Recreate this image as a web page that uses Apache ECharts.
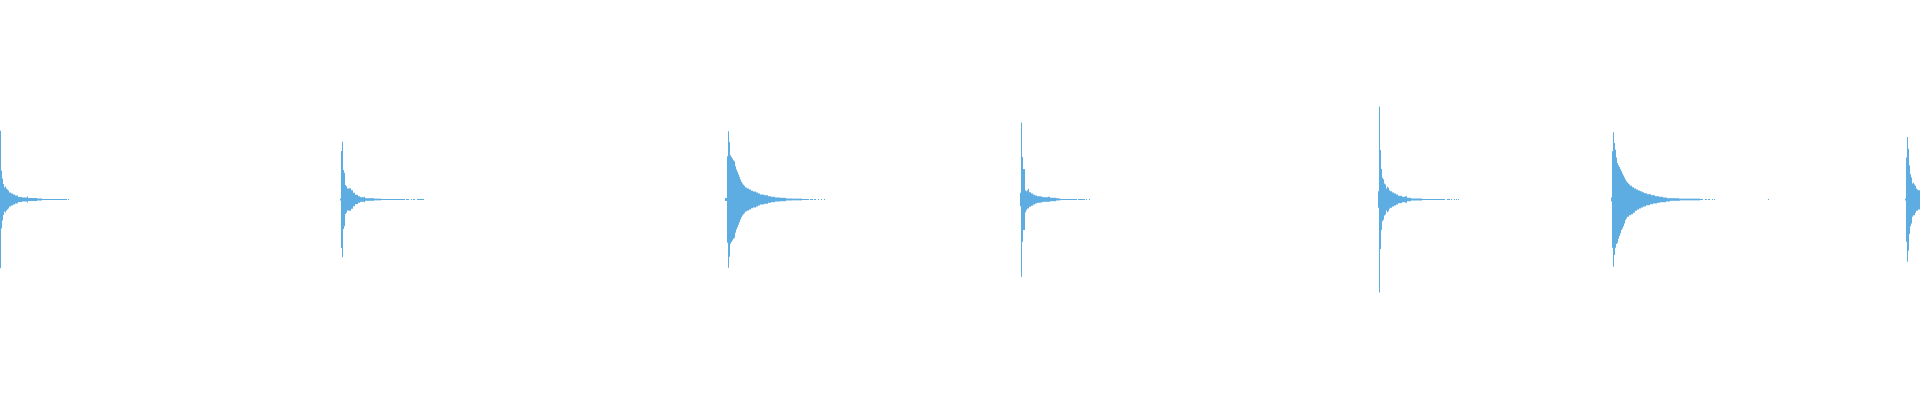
<!DOCTYPE html>
<html>
<head>
<meta charset="utf-8">
<script src="https://cdn.jsdelivr.net/npm/echarts@6/dist/echarts.min.js"></script>
<style>
  html, body { margin: 0; padding: 0; background: #ffffff; }
  #wave { width: 1920px; height: 400px; }
</style>
</head>
<body>
<div id="wave"></div>
<script>
// Envelope steps: [sample, amplitude].
// An amplitude holds until the next step.
const burst1Top = [[0, 69], [1, 29], [2, 21], [3, 15.5], [4, 12], [5, 13], [6, 11], [7, 10], [8, 9], [9, 7], [11, 6], [13, 5], [15, 4], [18, 2.5], [22, 2], [27, 3], [28, 1.5], [37, 1], [42, 0]];
const burst2Top = [[340, 1], [341, 48.5], [342, 58], [343, 29.5], [344, 26.7], [345, 14.5], [346, 13.3], [347, 11], [349, 11.3], [351, 9.3], [353, 6.7], [355, 4.7], [358, 3.3], [360, 2.3], [364, 2.7], [365, 1.3], [374, 0.7], [381, 0]];
const burst3Top = [[725, 1.5], [727, 43.3], [728, 68.5], [729, 57.5], [730, 44.3], [731, 42.7], [732, 41], [733, 39.3], [734, 38.3], [735, 33.3], [736, 30], [737, 27.7], [738, 25.3], [739, 22.7], [740, 20], [741, 17.7], [742, 16], [743, 14.7], [744, 13.7], [745, 12], [747, 11], [749, 10], [751, 8.7], [753, 8], [756, 7], [758, 6], [760, 5], [764, 4.3], [768, 3.3], [771, 2.7], [775, 2], [780, 1.7], [786, 1], [792, 0.7], [802, 0]];
const burst4Top = [[1020, 6.7], [1021, 77.3], [1022, 42.7], [1023, 30.5], [1025, 9.3], [1026, 8.3], [1027, 9.3], [1028, 10.7], [1029, 7.3], [1031, 6], [1033, 4.7], [1035, 4], [1037, 3.3], [1041, 2.7], [1043, 2.3], [1048, 2.7], [1050, 1.7], [1056, 1.3], [1059, 0.7], [1061, 0]];
const burst4Bottom = [[1020, 6.7], [1021, 77.4], [1022, 42.4], [1023, 30.7], [1025, 13], [1026, 10.7], [1027, 9], [1029, 7.3], [1031, 6.3], [1033, 5], [1035, 4], [1037, 3.3], [1041, 2.7], [1043, 2.3], [1050, 1.7], [1056, 1], [1059, 0.7], [1061, 0]];
const burst5Top = [[1378, 8.3], [1379, 93.3], [1380, 49.5], [1381, 30.5], [1382, 21.7], [1383, 20.3], [1384, 16], [1385, 15], [1386, 11], [1387, 12.7], [1388, 11.7], [1389, 9.3], [1390, 8.3], [1392, 7], [1394, 6], [1396, 5], [1398, 3.7], [1402, 2.7], [1405, 3.3], [1407, 1.7], [1411, 1], [1422, 0]];
const burst6Top = [[1611, 2], [1612, 48.3], [1613, 67.3], [1614, 56.7], [1615, 50], [1616, 42], [1617, 36.7], [1618, 34.3], [1619, 32.7], [1620, 30.3], [1621, 28.3], [1622, 26], [1623, 24], [1624, 22], [1625, 20], [1626, 18.3], [1627, 17], [1628, 16], [1629, 15], [1630, 13.7], [1632, 12.3], [1634, 11], [1636, 10], [1638, 9], [1640, 8.3], [1642, 7.3], [1644, 6.3], [1647, 5.3], [1651, 4.3], [1655, 3.3], [1659, 2.7], [1663, 2], [1667, 1.3], [1679, 0.7], [1700, 0]];
const burst6Bottom = [[1611, 2], [1612, 48.3], [1613, 67.4], [1614, 55.7], [1615, 48.3], [1616, 44.7], [1617, 43.3], [1618, 39.3], [1619, 36.7], [1620, 34], [1621, 30.7], [1622, 29], [1623, 26.7], [1624, 24], [1625, 20.7], [1626, 19], [1627, 17.3], [1629, 15.7], [1631, 14.7], [1633, 13.3], [1635, 11.3], [1637, 10], [1639, 9], [1641, 8], [1643, 7], [1646, 5.7], [1650, 4.7], [1653, 4], [1657, 3.3], [1660, 2.7], [1666, 2], [1670, 1.3], [1680, 0.7], [1700, 0]];
const burst7Top = [[1905, 1], [1906, 42], [1907, 62.7], [1908, 51], [1909, 34.3], [1910, 25.3], [1911, 22], [1912, 16], [1913, 16.7], [1914, 15], [1915, 13.7], [1916, 11], [1917, 10], [1918, 9.3], [1920, 9.3]];
const burst7Bottom = [[1905, 1], [1906, 42.3], [1907, 62.3], [1908, 51.3], [1909, 34.7], [1910, 26.7], [1911, 24], [1912, 17.3], [1913, 15.7], [1915, 13.3], [1916, 11.3], [1918, 10], [1920, 10]];

// near-silent centre-line pieces: [from, to]
const burst1Tail = [[0, 67], [68, 69]];
const burst2Tail = [[340, 405], [406, 409], [411, 412], [413, 415], [417, 424]];
const burst3Tail = [[725, 809], [810, 813], [814, 816], [818, 819], [821, 822], [824, 825]];
const burst4Tail = [[1020, 1077], [1078, 1085], [1086, 1087], [1089, 1090]];
const burst5Tail = [[1378, 1445], [1447, 1450], [1451, 1452], [1454, 1455], [1456, 1457], [1458, 1459]];
const burst6Tail = [[1611, 1703], [1705, 1707], [1708, 1710], [1712, 1713], [1714, 1715], [1768, 1769]];
const burst7Tail = [[1905, 1920]];

const waveColor = "#5dade2";

const tops = [burst1Top, burst2Top, burst3Top, burst4Top, burst5Top, burst6Top, burst7Top];
const bottoms = [burst1Top, burst2Top, burst3Top, burst4Bottom, burst5Top, burst6Bottom, burst7Bottom];
const tails = [burst1Tail, burst2Tail, burst3Tail, burst4Tail, burst5Tail, burst6Tail, burst7Tail];

// every piece becomes [x0, x1, yTop, yBottom]
const pieces = [];
tops.forEach(function (steps) {
  for (let i = 0; i < steps.length - 1; i++) {
    if (steps[i][1] > 0) pieces.push([steps[i][0], steps[i + 1][0], steps[i][1], 0]);
  }
});
bottoms.forEach(function (steps) {
  for (let i = 0; i < steps.length - 1; i++) {
    if (steps[i][1] > 0) pieces.push([steps[i][0], steps[i + 1][0], 0, -steps[i][1]]);
  }
});
tails.forEach(function (segs) {
  segs.forEach(function (s) {
    pieces.push([s[0], s[1], 0, 0]);
  });
});

function renderPiece(params, api) {
  const p0 = api.coord([api.value(0), api.value(2)]);
  const p1 = api.coord([api.value(1), api.value(3)]);
  let y0 = p0[1];
  let y1 = p1[1];
  // keep the centre line one pixel thick
  if (y1 - y0 < 1) {
    const mid = (y0 + y1) / 2;
    y0 = mid - 0.5;
    y1 = mid + 0.5;
  }
  return {
    type: "rect",
    shape: { x: p0[0], y: y0, width: p1[0] - p0[0], height: y1 - y0 },
    style: { fill: waveColor },
  };
}

const chart = echarts.init(document.getElementById("wave"));
chart.setOption({
  animation: false,
  grid: { left: 0, right: 0, top: 0, bottom: 1 },
  xAxis: { type: "value", min: 0, max: 1920, show: false },
  yAxis: { type: "value", min: -200, max: 200, show: false },
  series: [
    {
      type: "custom",
      data: pieces,
      renderItem: renderPiece,
      encode: { x: [0, 1], y: [2, 3] },
      silent: true,
      animation: false,
    },
  ],
});
</script>
</body>
</html>
